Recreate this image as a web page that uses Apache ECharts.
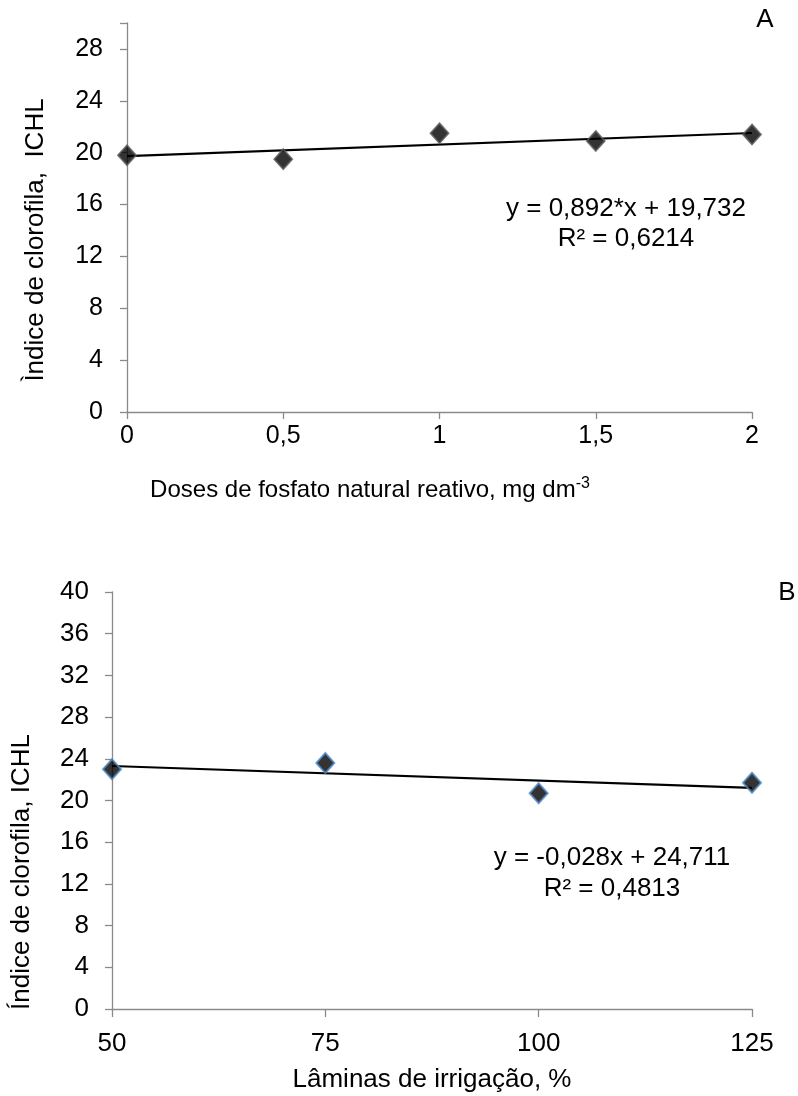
<!DOCTYPE html>
<html>
<head>
<meta charset="utf-8">
<script src="https://cdn.jsdelivr.net/npm/echarts@6/dist/echarts.min.js"></script>
<style>
  html, body { margin: 0; padding: 0; background: #fff; }
  #chart { width: 798px; height: 1096px; }
</style>
</head>
<body>
<div id="chart"></div>
<script>
// Panel A: chlorophyll index vs. reactive natural phosphate dose
const dosesA = [0, 0.5, 1, 1.5, 2];
const ichlA = [19.8, 19.5, 21.5, 20.9, 21.4];
const trendA = { slope: 0.892, intercept: 19.732 };
const eqA = ['y = 0,892*x + 19,732', 'R² = 0,6214'];

// Panel B: chlorophyll index vs. irrigation depth
const laminasB = [50, 75, 100, 125];
const ichlB = [23.0, 23.6, 20.7, 21.7];
const trendB = { slope: -0.028, intercept: 24.711 };
const eqB = ['y = -0,028x + 24,711', 'R² = 0,4813'];

const FONT = '"Liberation Sans", Arial, sans-serif';

// straight trend line across the plotted x range, from the fitted coefficients
function fitLine(xs, t) {
  const a = xs[0], b = xs[xs.length - 1];
  return [[a, t.intercept + t.slope * a], [b, t.intercept + t.slope * b]];
}
function pairs(xs, ys) { return xs.map((x, i) => [x, ys[i]]); }

const axisLine = { show: true, lineStyle: { color: '#8a8a8a', width: 1.3 } };
const tickStyle = { show: true, length: 7, lineStyle: { color: '#8a8a8a', width: 1.3 } };

function txt(x, y, text, size, extra) {
  return Object.assign({
    type: 'text', x: x, y: y,
    style: { text: text, fill: '#000', font: size + 'px ' + FONT, align: 'center', verticalAlign: 'middle' }
  }, extra || {});
}

const chart = echarts.init(document.getElementById('chart'), null, { renderer: 'canvas' });

chart.setOption({
  backgroundColor: '#fff',
  animation: false,
  grid: [
    { left: 127, right: 46, top: 23, height: 389 },
    { left: 112, right: 46, top: 592, height: 417 }
  ],
  xAxis: [
    {
      gridIndex: 0, type: 'value', min: 0, max: 2, interval: 0.5,
      axisLine: axisLine, axisTick: tickStyle,
      splitLine: { show: false },
      axisLabel: {
        margin: 12, color: '#000', fontFamily: FONT, fontSize: 25,
        formatter: v => String(v).replace('.', ',')
      }
    },
    {
      gridIndex: 1, type: 'value', min: 50, max: 125, interval: 25,
      axisLine: axisLine, axisTick: Object.assign({}, tickStyle, { length: 8 }),
      splitLine: { show: false },
      axisLabel: { margin: 22, color: '#000', fontFamily: FONT, fontSize: 26 }
    }
  ],
  yAxis: [
    {
      gridIndex: 0, type: 'value', min: 0, max: 30, interval: 4,
      axisLine: axisLine, axisTick: tickStyle, splitLine: { show: false },
      axisLabel: {
        margin: 24, color: '#000', fontFamily: FONT, fontSize: 25,
        formatter: v => (v > 28 ? '' : String(v))
      }
    },
    {
      gridIndex: 1, type: 'value', min: 0, max: 40, interval: 4,
      axisLine: axisLine, axisTick: tickStyle, splitLine: { show: false },
      axisLabel: { margin: 23, color: '#000', fontFamily: FONT, fontSize: 26 }
    }
  ],
  series: [
    {
      type: 'line', xAxisIndex: 0, yAxisIndex: 0,
      data: fitLine(dosesA, trendA), symbol: 'none',
      lineStyle: { color: '#000', width: 2.2 }, z: 2
    },
    {
      type: 'scatter', xAxisIndex: 0, yAxisIndex: 0,
      data: pairs(dosesA, ichlA), symbol: 'diamond', symbolSize: [18, 20],
      itemStyle: { color: '#000', borderColor: '#5a5a5a', borderWidth: 1.8 }, z: 3
    },
    {
      type: 'line', xAxisIndex: 1, yAxisIndex: 1,
      data: fitLine(laminasB, trendB), symbol: 'none',
      lineStyle: { color: '#000', width: 2.2 }, z: 2
    },
    {
      type: 'scatter', xAxisIndex: 1, yAxisIndex: 1,
      data: pairs(laminasB, ichlB), symbol: 'diamond', symbolSize: [18, 20],
      itemStyle: { color: '#000', borderColor: '#4f86c6', borderWidth: 2 }, z: 3
    }
  ],
  graphic: [
    txt(765, 20, 'A', 26),
    txt(787, 593, 'B', 26),
    txt(626, 209, eqA[0], 26),
    txt(626, 239, eqA[1], 26),
    txt(612, 858, eqB[0], 26),
    txt(612, 889, eqB[1], 26),
    // y-axis titles, written bottom to top
    txt(36, 240, 'Ìndice de clorofila,  ICHL', 26, { rotation: Math.PI / 2 }),
    txt(22, 872, 'Índice de clorofila, ICHL', 26, { rotation: Math.PI / 2 }),
    {
      type: 'text', x: 370, y: 490,
      style: {
        text: '{n|Doses de fosfato natural reativo, mg dm}{s|-3}',
        align: 'center', verticalAlign: 'middle',
        rich: {
          n: { fontFamily: FONT, fontSize: 24, color: '#000' },
          s: { fontFamily: FONT, fontSize: 16, color: '#000', verticalAlign: 'top', padding: [0, 0, 12, 0] }
        }
      }
    },
    txt(432, 1080, 'Lâminas de irrigação, %', 26)
  ]
});
</script>
</body>
</html>
